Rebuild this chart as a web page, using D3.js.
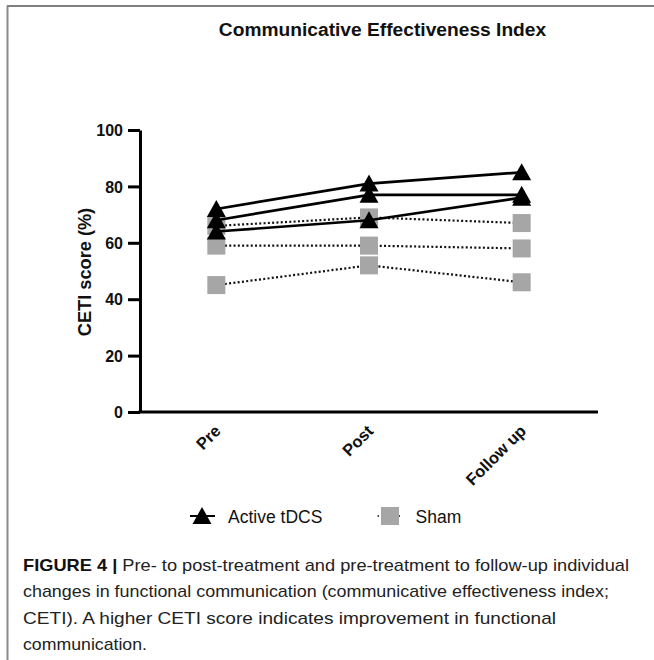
<!DOCTYPE html>
<html>
<head>
<meta charset="utf-8">
<script src="https://cdn.jsdelivr.net/npm/d3@7/dist/d3.min.js"></script>
<style>
  html, body { margin: 0; padding: 0; background: #fff; }
  svg { display: block; }
</style>
</head>
<body>
<svg id="fig" width="654" height="660"></svg>
<script>
// Time points on the x axis
const timepoints = ["Pre", "Post", "Follow up"];
// Individual CETI scores (%) per participant, one array per participant
const activeScores = [
  [72, 81, 85],
  [68, 77, 77],
  [64, 68, 76]
];
const shamScores = [
  [66, 69, 67],
  [59, 59, 58],
  [45, 52, 46]
];
const yTicks = [0, 20, 40, 60, 80, 100];
const legendLabels = ["Active tDCS", "Sham"];
const titleText = "Communicative Effectiveness Index";
const yAxisTitle = "CETI score (%)";
const captionLines = [
  [["FIGURE 4 | ", true], ["Pre- to post-treatment and pre-treatment to follow-up individual", false]],
  [["changes in functional communication (communicative effectiveness index;", false]],
  [["CETI). A higher CETI score indicates improvement in functional", false]],
  [["communication.", false]]
];
const captionWidths = [606, 586, 533, 124];

const svg = d3.select("#fig");
const font = "'Liberation Sans', Arial, Helvetica, sans-serif";

// Panel frame
svg.append("line").attr("x1", 7).attr("x2", 654).attr("y1", 6).attr("y2", 6)
  .attr("stroke", "#555").attr("stroke-width", 1.5);
svg.append("line").attr("x1", 7.5).attr("x2", 7.5).attr("y1", 5.5).attr("y2", 660)
  .attr("stroke", "#8a8a8a").attr("stroke-width", 2);

// Scales
const x = d3.scalePoint().domain(timepoints).range([140, 598]).padding(0.5);
const y = d3.scaleLinear().domain([0, 100]).range([412, 130]);

// Title
svg.append("text")
  .attr("x", 382.5).attr("y", 36)
  .attr("text-anchor", "middle")
  .attr("font-family", font).attr("font-weight", "bold").attr("font-size", 19.2)
  .attr("fill", "#111")
  .text(titleText);

// Y axis
const yAxis = svg.append("g")
  .attr("transform", "translate(140,0)")
  .call(d3.axisLeft(y).tickValues(yTicks).tickSize(12).tickSizeOuter(0).tickPadding(5));
yAxis.select(".domain").attr("stroke", "#000").attr("stroke-width", 3);
yAxis.selectAll(".tick line").attr("stroke", "#000").attr("stroke-width", 3);
yAxis.selectAll(".tick text")
  .attr("font-family", font).attr("font-weight", "bold").attr("font-size", 16)
  .attr("fill", "#111").attr("dy", "0.36em");

// X axis
const xAxis = svg.append("g")
  .attr("transform", "translate(0,412)")
  .call(d3.axisBottom(x).tickSize(0).tickSizeOuter(0));
xAxis.select(".domain").attr("stroke", "#000").attr("stroke-width", 3)
  .attr("d", "M138.5,0H598");
xAxis.selectAll(".tick text")
  .attr("y", 0).attr("dy", 0)
  .attr("transform", "translate(5,20) rotate(-45)")
  .attr("text-anchor", "end")
  .attr("font-family", font).attr("font-weight", "bold").attr("font-size", 16.5)
  .attr("fill", "#111");

// Y axis title
svg.append("text")
  .attr("transform", "translate(91,272) rotate(-90)")
  .attr("text-anchor", "middle")
  .attr("font-family", font).attr("font-weight", "bold").attr("font-size", 18.2)
  .attr("fill", "#111")
  .text(yAxisTitle);

const line = d3.line().x((d, i) => x(timepoints[i])).y(d => y(d));
const triPath = "M0,-9L9.5,8L-9.5,8Z";
const sq = 18;
const grey = "#a6a6a6";

// Sham participants: dotted lines with grey squares
const sham = svg.append("g");
sham.selectAll("path.sham")
  .data(shamScores).join("path")
  .attr("class", "sham")
  .attr("d", line)
  .attr("fill", "none").attr("stroke", "#111").attr("stroke-width", 2.2)
  .attr("stroke-dasharray", "2,2.3");
shamScores.forEach(s => {
  sham.selectAll(null).data(s).join("rect")
    .attr("x", (d, i) => x(timepoints[i]) - sq / 2)
    .attr("y", d => y(d) - sq / 2)
    .attr("width", sq).attr("height", sq)
    .attr("fill", grey);
});

// Active tDCS participants: solid lines with black triangles
const active = svg.append("g");
active.selectAll("path.active")
  .data(activeScores).join("path")
  .attr("class", "active")
  .attr("d", line)
  .attr("fill", "none").attr("stroke", "#000").attr("stroke-width", 2.7);
activeScores.forEach(s => {
  active.selectAll(null).data(s).join("path")
    .attr("d", triPath)
    .attr("transform", (d, i) => `translate(${x(timepoints[i])},${y(d)})`)
    .attr("fill", "#000");
});

// Legend
const legend = svg.append("g");
legend.append("line").attr("x1", 190).attr("x2", 215).attr("y1", 516).attr("y2", 516)
  .attr("stroke", "#000").attr("stroke-width", 2);
legend.append("path").attr("d", triPath).attr("transform", "translate(202,516)").attr("fill", "#000");
legend.append("text").attr("x", 228).attr("y", 523)
  .attr("font-family", font).attr("font-size", 17.5).attr("fill", "#111")
  .text(legendLabels[0]);
legend.append("line").attr("x1", 377.5).attr("x2", 402).attr("y1", 516).attr("y2", 516)
  .attr("stroke", "#111").attr("stroke-width", 1.5).attr("stroke-dasharray", "1.5,2");
legend.append("rect").attr("x", 390 - sq / 2).attr("y", 516 - sq / 2)
  .attr("width", sq).attr("height", sq).attr("fill", grey);
legend.append("text").attr("x", 415.5).attr("y", 523)
  .attr("font-family", font).attr("font-size", 17.5).attr("fill", "#111")
  .text(legendLabels[1]);

// Caption
const capFont = "'Liberation Sans Narrow', 'Arial Narrow', 'Liberation Sans', sans-serif";
captionLines.forEach((parts, i) => {
  const t = svg.append("text")
    .attr("x", 23).attr("y", 571 + i * 26.3)
    .attr("font-family", capFont).attr("font-size", 17)
    .attr("fill", "#222")
    .attr("textLength", captionWidths[i])
    .attr("lengthAdjust", "spacingAndGlyphs");
  parts.forEach(([txt, bold]) => {
    t.append("tspan")
      .attr("font-weight", bold ? "bold" : "normal")
      .attr("fill", bold ? "#111" : "#222")
      .text(txt);
  });
});
</script>
</body>
</html>
